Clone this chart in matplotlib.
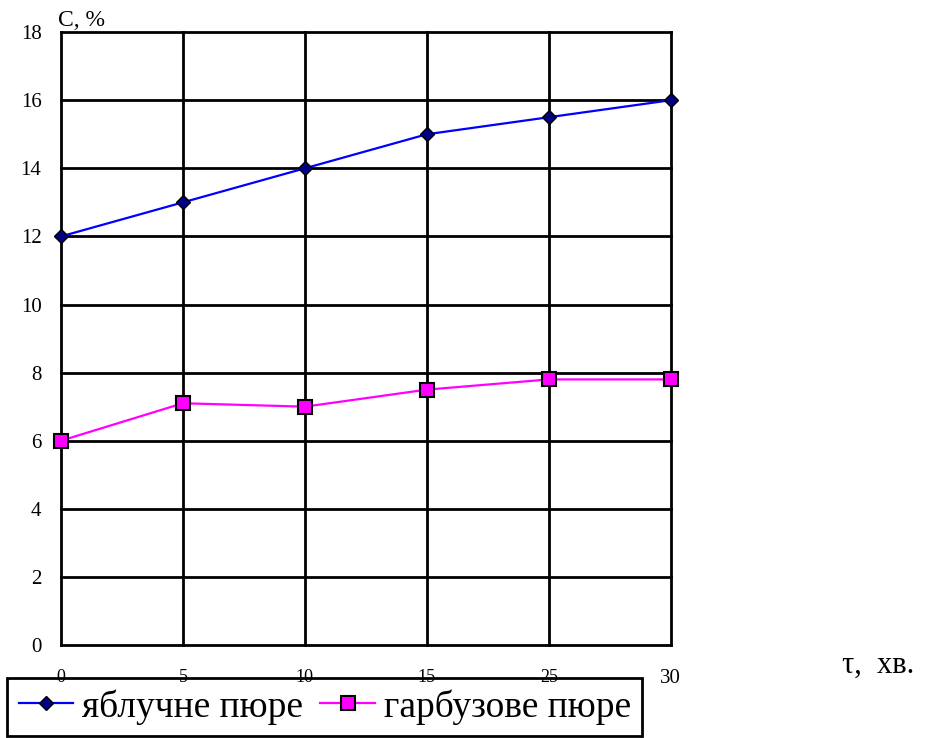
import numpy as np
import matplotlib
matplotlib.use("Agg")
import matplotlib.pyplot as plt

plt.rcParams['font.family'] = ['Liberation Serif', 'DejaVu Serif']

# час, хв (категорії по осі x)
tau = ['0', '5', '10', '15', '25', '30']
apple = [12, 13, 14, 15, 15.5, 16]
pumpkin = [6, 7.1, 7, 7.5, 7.8, 7.8]
y_ticks = [0, 2, 4, 6, 8, 10, 12, 14, 16, 18]

fig = plt.figure(figsize=(9.31, 7.38), dpi=100)
ax = fig.add_axes([0.0655, 0.126, 0.655, 0.8305])

x = np.arange(len(tau))

# сітка
for yv in y_ticks:
    ax.axhline(yv, color='black', lw=2, zorder=1, clip_on=False)
for xv in x:
    ax.axvline(xv, color='black', lw=2, zorder=1, clip_on=False)

ax.plot(x, apple, color='#0000ff', lw=1.6, marker='D', markersize=7,
        markerfacecolor='#000080', markeredgecolor='black', markeredgewidth=1,
        label='яблучне пюре', zorder=3, clip_on=False)
ax.plot(x, pumpkin, color='#ff00ff', lw=1.6, marker='s', markersize=10,
        markerfacecolor='#ff00ff', markeredgecolor='black', markeredgewidth=1.5,
        label='гарбузове пюре', zorder=3, clip_on=False)

ax.set_xlim(0, len(tau) - 1)
ax.set_ylim(0, 18)
ax.set_xticks(x)
ax.set_xticklabels(tau, fontsize=13)
ax.get_xticklabels()[-1].set_fontsize(15)
ax.set_yticks(y_ticks)
ax.set_yticklabels([str(v) for v in y_ticks], fontsize=15)
ax.tick_params(axis='both', length=0)
ax.tick_params(axis='x', pad=17)
ax.tick_params(axis='y', pad=14)
for s in ax.spines.values():
    s.set_visible(False)

fig.text(0.062, 0.958, 'С, %', fontsize=17, ha='left', va='bottom')
fig.text(0.904, 0.099, 'τ,  хв.', fontsize=22, ha='left', va='center')

# легенда під підписами осі x
leg = fig.legend(loc='lower left', bbox_to_anchor=(0.008, 0.003), fontsize=27,
                 ncol=2, frameon=True, fancybox=False, framealpha=1,
                 handlelength=1.45, handletextpad=0.25, columnspacing=0.45,
                 borderpad=0.3, borderaxespad=0)
leg.get_frame().set_edgecolor('black')
leg.get_frame().set_linewidth(2)
leg.set_zorder(-1)

fig.savefig('out.png', dpi=100, facecolor='white')
